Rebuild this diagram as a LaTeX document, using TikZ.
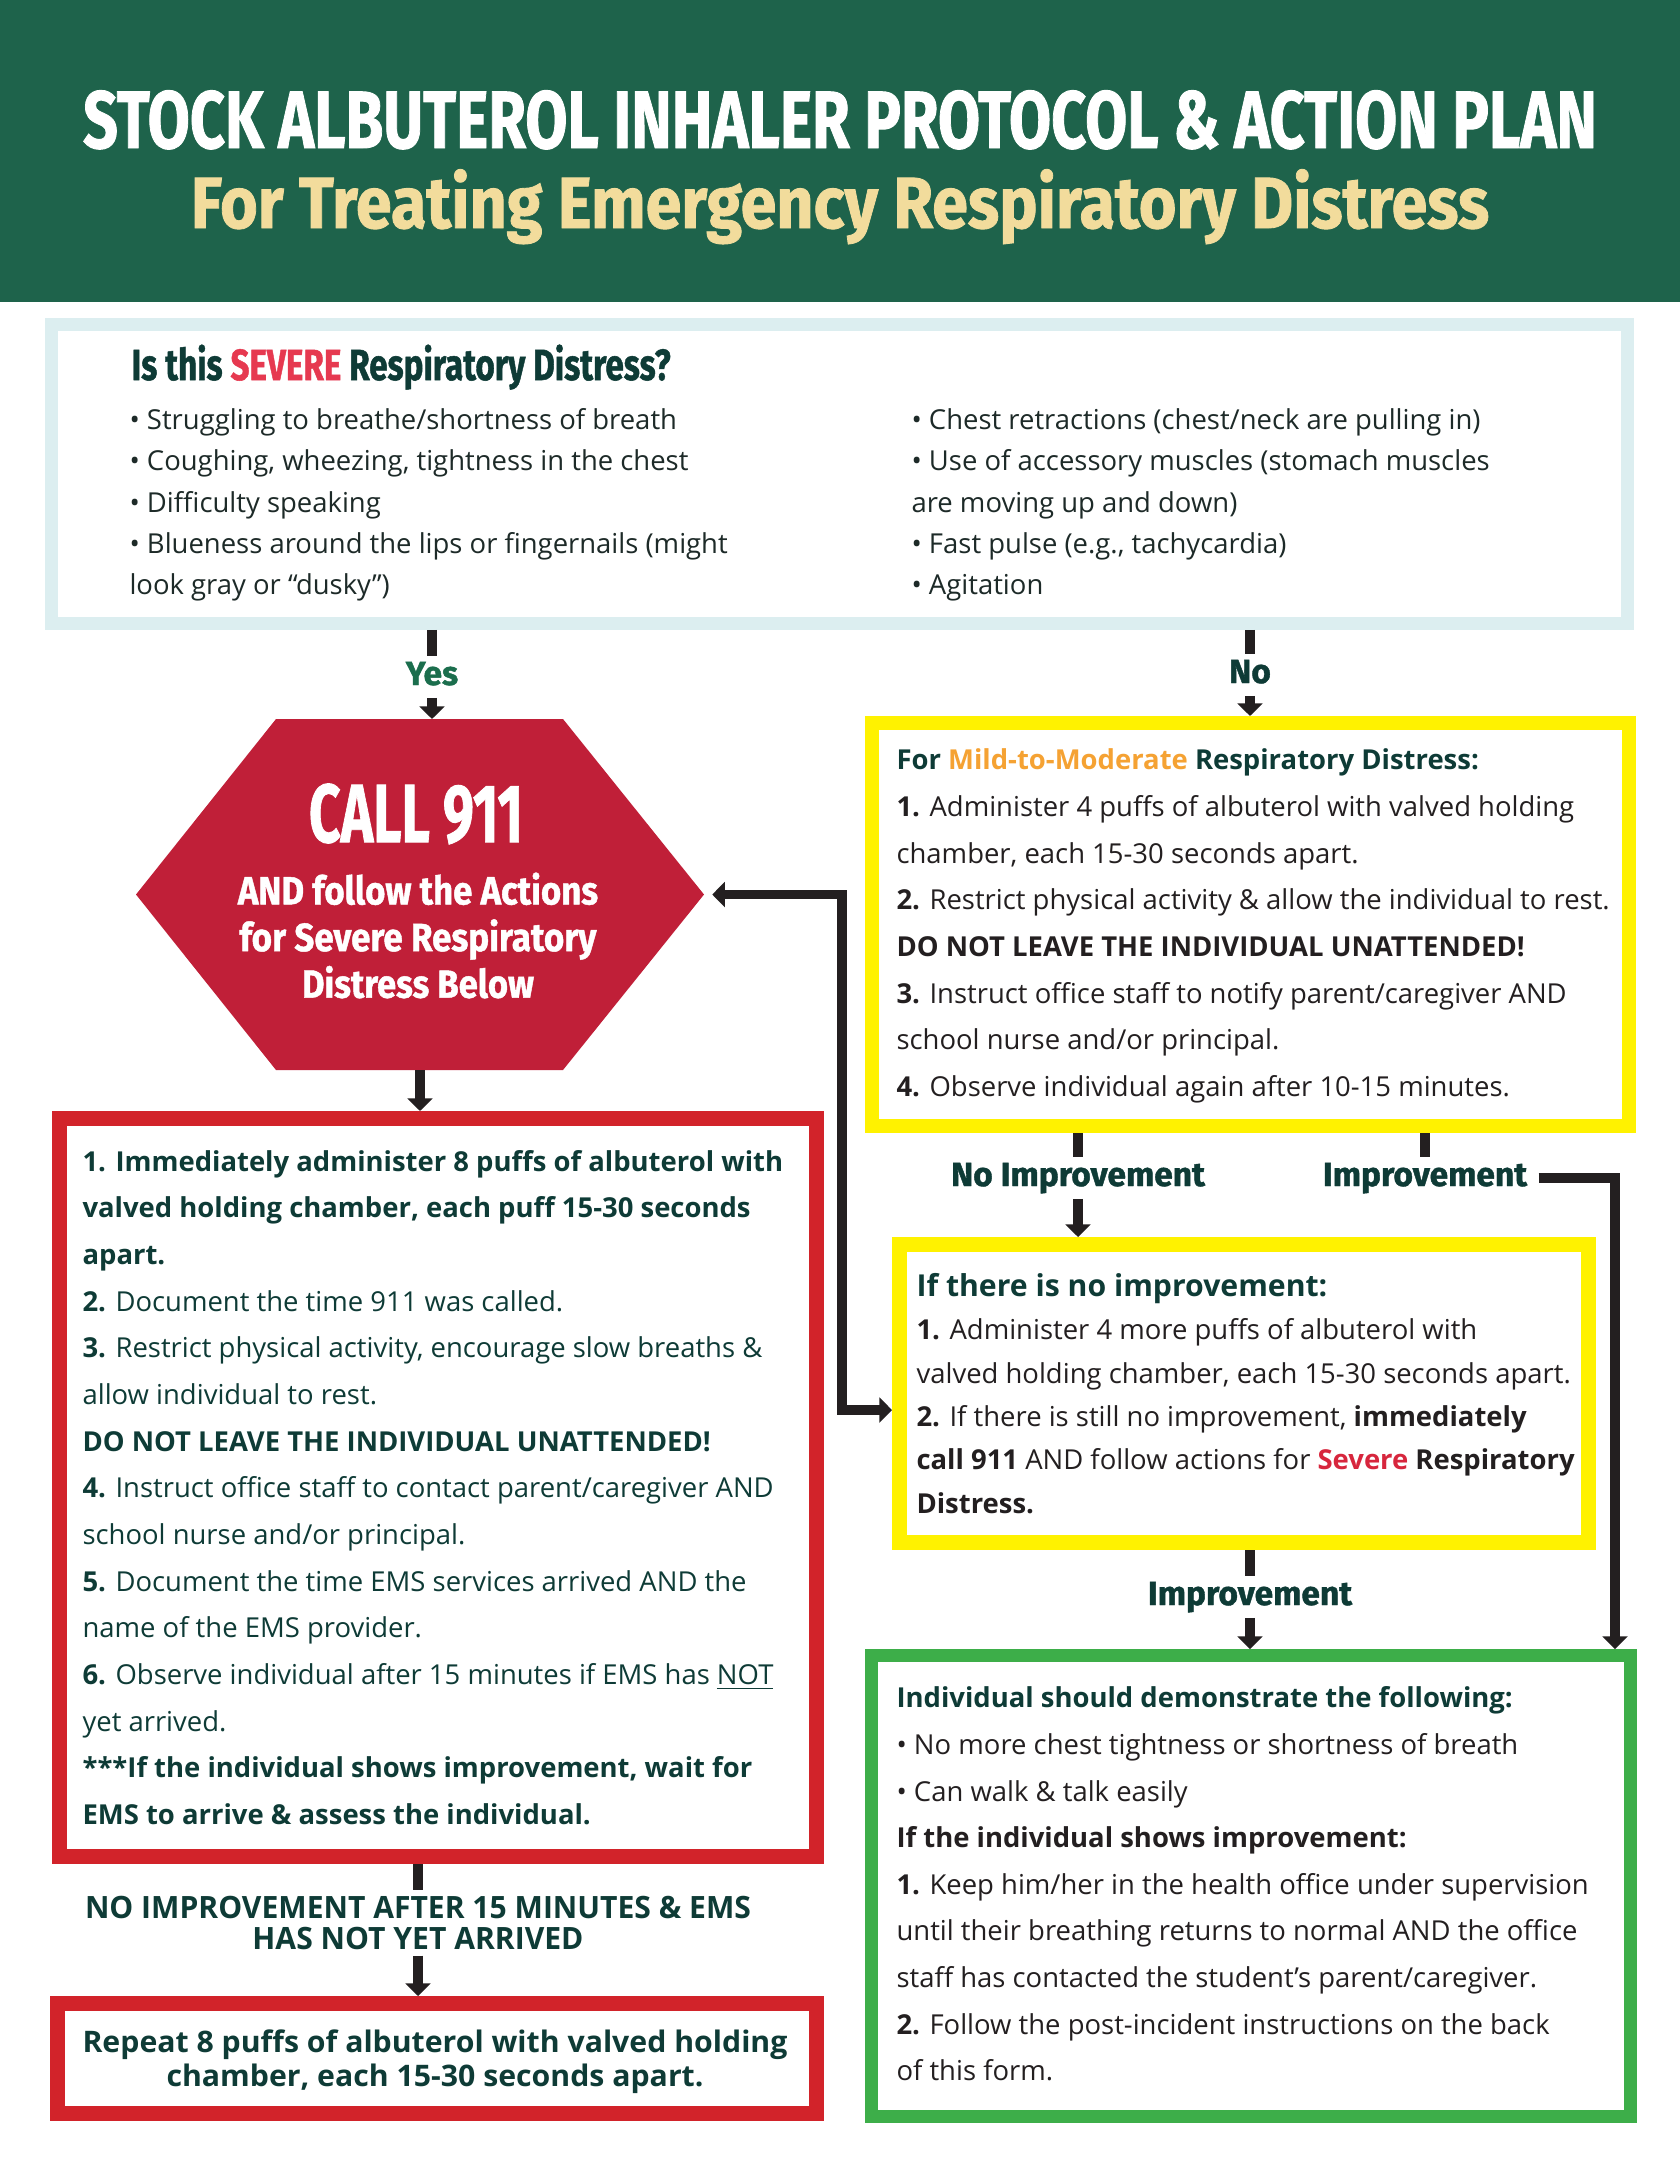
\documentclass[tikz,border=0pt]{standalone}
\usepackage{fontspec}
\usepackage{graphicx}
\setmainfont{Open Sans}
\newfontfamily\headfont{Fira Sans}[BoldFeatures={FakeBold=1.2}]
\usetikzlibrary{arrows.meta}

\definecolor{hdrgreen}{HTML}{1E634B}
\definecolor{titletan}{HTML}{F2DC9C}
\definecolor{topline}{HTML}{DCEEF0}
\definecolor{inkteal}{HTML}{0E3B36}
\definecolor{inkdark}{HTML}{1D2A28}
\definecolor{ink}{HTML}{231F20}
\definecolor{sevred}{HTML}{E63950}
\definecolor{severered}{HTML}{D7263D}
\definecolor{hexred}{HTML}{C01F38}
\definecolor{boxred}{HTML}{D2232A}
\definecolor{hiyellow}{HTML}{FFF200}
\definecolor{okgreen}{HTML}{3DAE49}
\definecolor{mildorange}{HTML}{F5A233}
\definecolor{yesgreen}{HTML}{1B6E4D}

\newlength{\pxu}
\setlength{\pxu}{0.3643pt}
\newcommand{\squeezeto}[2]{\resizebox{#1}{\height}{#2}}

\tikzset{
  panel/.style={draw, fill=white, inner sep=0pt},
  bodytext/.style={align=left, inner sep=0pt, anchor=west, text=ink, font=\fontsize{10}{17}\selectfont},
  signs/.style={align=left, inner sep=0pt, anchor=north west, text=inkdark, font=\fontsize{10}{15.05}\selectfont},
  headline/.style={anchor=base, inner sep=0pt, font=\headfont\bfseries\fontsize{29.6}{32}\selectfont},
  lbl/.style={anchor=base, inner xsep=4pt, inner ysep=2pt, text height=8.5pt, text depth=2.5pt, text=inkteal, font=\headfont\bfseries\fontsize{12.2}{13}\selectfont},
  bar/.style={draw=ink, line width=3.6pt},
  arr/.style={bar, -{Triangle[width=9pt,length=4.6pt]}},
  arrboth/.style={bar, {Triangle[width=9pt,length=4.6pt]}-{Triangle[width=9pt,length=4.6pt]}},
}

\begin{document}
\begin{tikzpicture}[x=0.3643pt, y=-0.3643pt]
    \useasboundingbox (0,0) rectangle (1680,2174);
    \fill[white] (0,0) rectangle (1680,2174);

    % header
    \fill[hdrgreen] (0,0) rectangle (1680,302);
    \node [headline, text=white] (title) at (840,148) {\squeezeto{551.5pt}{STOCK ALBUTEROL INHALER PROTOCOL \& ACTION PLAN}};
    \node [headline, text=titletan, font=\headfont\bfseries\fontsize{26.4}{28}\selectfont] (subtitle) at (840,228) {\squeezeto{473pt}{For Treating Emergency Respiratory Distress}};

    % is it severe?
    \node [panel, draw=topline, line width=4.7pt, minimum width=1576\pxu, minimum height=299\pxu] (severe) at (839.5,474) {};
    \node [anchor=base west, inner sep=0pt, text=inkteal, font=\headfont\bfseries\fontsize{15.9}{17}\selectfont] (sevq) at (131,380) {\squeezeto{196.4pt}{Is this \textcolor{sevred}{SEVERE} Respiratory Distress?}};
    \node [signs] (signsleft) at (129,408) {• Struggling to breathe/shortness of breath\\
        • Coughing, wheezing, tightness in the chest\\
        • Difficulty speaking\\
        • Blueness around the lips or fingernails (might\\
        look gray or “dusky”)};
    \node [signs] (signsright) at (911,408) {• Chest retractions (chest/neck are pulling in)\\
        • Use of accessory muscles (stomach muscles\\
        are moving up and down)\\
        • Fast pulse (e.g., tachycardia)\\
        • Agitation};

    \node [lbl, text=yesgreen] (yes) at (432,685) {Yes};
    \node [lbl] (no) at (1250,683) {No};

    % call 911
    \node [minimum width=568\pxu, minimum height=351\pxu, inner sep=0pt, outer sep=0pt] (hex) at (420,894.5) {};
    \fill[hexred] (hex.west) -- ([xshift=140\pxu]hex.north west) -- ([xshift=-141\pxu]hex.north east) -- (hex.east)
        -- ([xshift=-141\pxu]hex.south east) -- ([xshift=140\pxu]hex.south west) -- cycle;
    \node [anchor=base, inner sep=0pt, text=white, font=\headfont\bfseries\fontsize{30}{32}\selectfont] (call) at (416,842) {\squeezeto{78pt}{CALL 911}};
    \node [anchor=north, align=center, inner sep=0pt, text=white, font=\headfont\bfseries\fontsize{14.3}{17}\selectfont] (callsub) at (418,872) {\squeezeto{131.2pt}{AND follow the Actions}\\
        \squeezeto{130pt}{for Severe Respiratory}\\
        \squeezeto{84.5pt}{Distress Below}};

    % severe steps
    \node [panel, draw=boxred, line width=5.46pt, minimum width=757\pxu, minimum height=738\pxu] (redsteps) at (438,1487.5) {};
    \node [bodytext, text=inkteal] (redstepstxt) at (82,1487.5) {\textbf{1. Immediately administer 8 puffs of albuterol with}\\
        \textbf{valved holding chamber, each puff 15-30 seconds}\\
        \textbf{apart.}\\
        \textbf{2.} Document the time 911 was called.\\
        \textbf{3.} Restrict physical activity, encourage slow breaths \&\\
        allow individual to rest.\\
        \textbf{DO NOT LEAVE THE INDIVIDUAL UNATTENDED!}\\
        \textbf{4.} Instruct office staff to contact parent/caregiver AND\\
        school nurse and/or principal.\\
        \textbf{5.} Document the time EMS services arrived AND the\\
        name of the EMS provider.\\
        \textbf{6.} Observe individual after 15 minutes if EMS has \underline{NOT}\\
        yet arrived.\\
        \textbf{***If the individual shows improvement, wait for}\\
        \textbf{EMS to arrive \& assess the individual.}};

    \node [anchor=north, align=center, inner sep=2pt, text=inkteal, font=\bfseries\fontsize{11.2}{11.3}\selectfont] (nofix) at (418,1890) {\squeezeto{242.6pt}{NO IMPROVEMENT AFTER 15 MINUTES \& EMS}\\
        \squeezeto{120.6pt}{HAS NOT YET ARRIVED}};

    \node [panel, draw=boxred, line width=5.46pt, minimum width=759\pxu, minimum height=110\pxu] (redrepeat) at (437,2058.5) {};
    \node [align=center, inner sep=0pt, text=inkteal, font=\bfseries\fontsize{10.8}{12.3}\selectfont] (repeattxt) at (435,2062) {\squeezeto{256.8pt}{Repeat 8 puffs of albuterol with valved holding}\\
        \squeezeto{195.6pt}{chamber, each 15-30 seconds apart.}};

    % mild to moderate
    \node [panel, draw=hiyellow, line width=5.1pt, minimum width=757\pxu, minimum height=403\pxu] (mildbox) at (1250.5,924.5) {};
    \node [bodytext] (mildtxt) at (896,926) {\textcolor{inkteal}{\textbf{For \textcolor{mildorange}{Mild-to-Moderate} Respiratory Distress:}}\\
        \textbf{1.} Administer 4 puffs of albuterol with valved holding\\
        chamber, each 15-30 seconds apart.\\
        \textbf{2.} Restrict physical activity \& allow the individual to rest.\\
        \textbf{DO NOT LEAVE THE INDIVIDUAL UNATTENDED!}\\
        \textbf{3.} Instruct office staff to notify parent/caregiver AND\\
        school nurse and/or principal.\\
        \textbf{4.} Observe individual again after 10-15 minutes.};

    \node [lbl] (noimp) at (1078,1186) {No Improvement};
    \node [lbl] (imp) at (1425,1186) {Improvement};
    \coordinate (impturn) at (1615,1180);

    % still no improvement
    \node [panel, draw=hiyellow, line width=5.46pt, minimum width=689\pxu, minimum height=298\pxu] (nochange) at (1244,1393.5) {};
    \node [bodytext, font=\fontsize{10}{15.8}\selectfont] (nochangetxt) at (916,1393.5) {\textcolor{inkteal}{\textbf{\fontsize{11}{16}\selectfont If there is no improvement:}}\\
        \textbf{1.} Administer 4 more puffs of albuterol with\\
        valved holding chamber, each 15-30 seconds apart.\\
        \textbf{2.} If there is still no improvement, \textbf{immediately}\\
        \textbf{call 911} AND follow actions for \textbf{\textcolor{severered}{Severe} Respiratory}\\
        \textbf{Distress.}};
    \coordinate (loopup) at (842,894.5);
    \coordinate (loopdown) at (842,1410);

    \node [lbl] (imp2) at (1250,1605) {Improvement};

    % improvement
    \node [panel, draw=okgreen, line width=4.7pt, minimum width=759\pxu, minimum height=461\pxu] (okbox) at (1251,1886) {};
    \node [bodytext] (oktxt) at (896,1884) {\textcolor{inkteal}{\textbf{Individual should demonstrate the following:}}\\
        • No more chest tightness or shortness of breath\\
        • Can walk \& talk easily\\
        \textbf{If the individual shows improvement:}\\
        \textbf{1.} Keep him/her in the health office under supervision\\
        until their breathing returns to normal AND the office\\
        staff has contacted the student’s parent/caregiver.\\
        \textbf{2.} Follow the post-incident instructions on the back\\
        of this form.};

    % connectors
    \draw[bar] (yes.north |- severe.south) -- (yes.north);
    \draw[arr] (yes.south) -- (yes.south |- hex.north);
    \draw[bar] (no.north |- severe.south) -- (no.north);
    \draw[arr] (no.south) -- (no.south |- mildbox.north);
    \draw[arr] (hex.south) -- (hex.south |- redsteps.north);
    \draw[bar] (redsteps.south -| nofix.north) -- (nofix.north);
    \draw[arr] (nofix.south) -- (nofix.south |- redrepeat.north);
    \draw[bar] (mildbox.south -| noimp.north) -- (noimp.north);
    \draw[arr] (noimp.south) -- (noimp.south |- nochange.north);
    \draw[bar] (mildbox.south -| imp.north) -- (imp.north);
    \draw[arr] (imp.east) -- (imp.east -| impturn) -- (impturn |- okbox.north);
    \draw[arrboth, shorten <=3pt] (hex.east) -- (loopup) -- (loopdown) -- (loopdown -| nochange.west);
    \draw[bar] (nochange.south -| imp2.north) -- (imp2.north);
    \draw[arr] (imp2.south) -- (imp2.south |- okbox.north);

\end{tikzpicture}
\end{document}
